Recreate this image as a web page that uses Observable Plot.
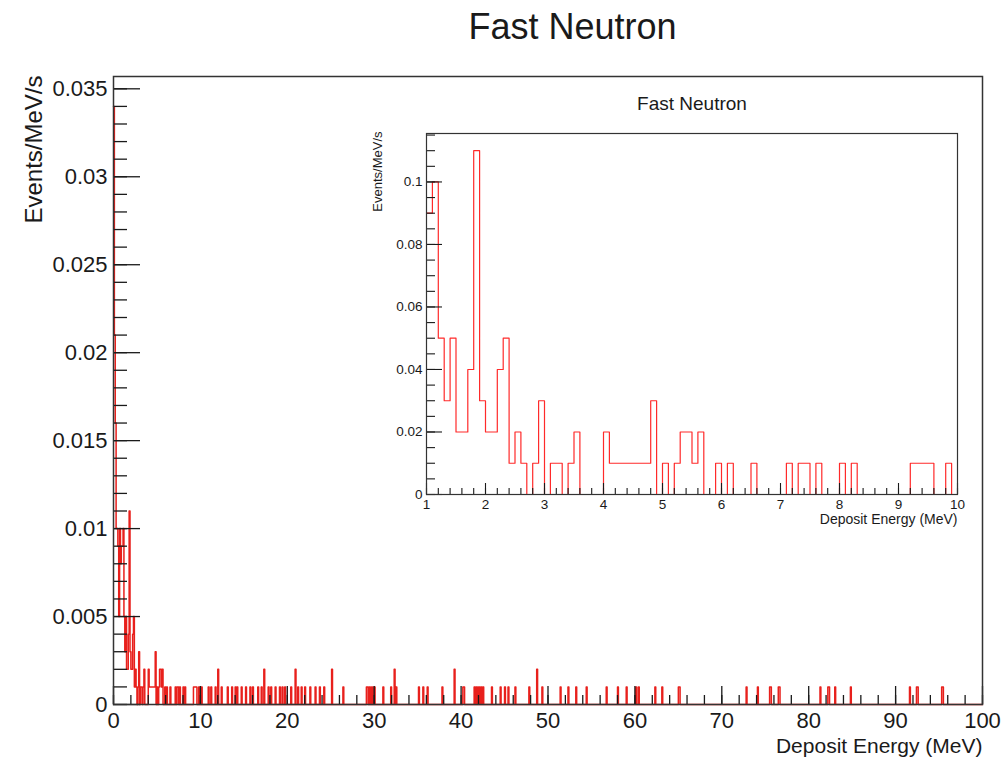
<!DOCTYPE html>
<html><head><meta charset="utf-8">
<script src="https://cdn.jsdelivr.net/npm/d3@7"></script>
<script src="https://cdn.jsdelivr.net/npm/@observablehq/plot@0.6"></script>
<style>
html,body{margin:0;padding:0;background:#fff;}
#wrap{position:relative;width:1002px;height:758px;overflow:hidden;background:#fff;}
#wrap svg{position:absolute;overflow:visible;}
</style></head><body><div id="wrap"></div>
<script>
// ---------- data (counts per 0.1 MeV bin) ----------
// main histogram, bins 0.0 .. 0.9 MeV (units of 0.001 Events/MeV/s)
const mainLowCounts = [34, 21, 16, 10, 10, 9, 5, 10, 8, 9];
// bins 1.0 .. 9.9 MeV (inset units of 0.01, main units of 0.001)
const insetCounts = [
  9,10,5,3,5,2,2,4,11,3,
  2,2,4,5,1,2,1,0,1,3,
  0,1,1,0,1,2,0,0,0,0,
  2,1,1,1,1,1,1,1,3,0,
  1,0,1,2,2,1,2,0,0,1,
  0,1,0,0,0,1,0,0,0,0,
  0,1,0,1,1,0,1,0,0,0,
  1,0,1,0,0,0,0,0,0,0,
  0,0,1,1,1,1,0,0,1,0
];
// sparse bins above 10 MeV (bin low edge, count)
const highBinE = [10.1,10.9,11.2,11.7,12.0,12.4,13.1,13.6,14.0,14.2,14.7,15.2,15.7,16.0,16.6,17.0,17.3,17.8,18.1,18.6,19.1,19.4,19.7,20.4,20.9,21.2,21.6,22.0,22.6,23.2,23.7,24.2,25.1,26.4,
  29.1,29.2,29.4,29.6,29.8,30.0,31.0,31.9,32.3,32.5,35.1,35.6,36.1,37.8,39.2,40.2,40.3,41.5,41.7,41.9,42.1,42.3,42.5,43.5,44.5,45.0,45.4,46.2,47.8,48.7,49.3,
  51.4,52.3,53.2,54.4,56.7,58.0,59.0,60.1,60.4,62.3,63.1,65.0,65.1,72.8,74.1,75.5,75.6,76.5,76.6,81.3,82.2,82.3,83.0,84.8,91.6,92.4,92.5,95.3,95.4];
const highBinCounts = [1,1,1,1,2,1,1,1,1,1,1,1,1,1,1,1,2,1,1,1,1,1,1,1,2,1,1,1,1,1,1,1,2,1,
  1,1,1,1,1,1,1,1,2,1,1,1,1,1,2,1,1,1,1,1,1,1,1,1,1,1,1,1,1,2,1,
  1,1,1,1,1,1,1,1,1,1,1,1,1,1,1,1,1,1,1,1,1,1,1,1,1,1,1,1,1];
// tick labels
const mainXTicks = [0,10,20,30,40,50,60,70,80,90,100];
const mainYTicks = [0,0.005,0.01,0.015,0.02,0.025,0.03,0.035];
const insetXTicks = [1,2,3,4,5,6,7,8,9,10];
const insetYTicks = [0,0.02,0.04,0.06,0.08,0.1];

const FONT = '"Liberation Sans", Arial, Helvetica, sans-serif';
const RED = "#e8201c";
const INK = "#1a1a1a";
const fmt = d => String(+(+d).toFixed(3));

// ---------- build histogram tables ----------
const nMain = 1000;
const mainCounts = new Array(nMain).fill(0);
mainLowCounts.forEach((c, i) => mainCounts[i] = c);
insetCounts.forEach((c, i) => mainCounts[10 + i] = c);
highBinE.forEach((e, i) => mainCounts[Math.round(e * 10)] = highBinCounts[i]);
const mainData = mainCounts.map((c, i) => ({x: i / 10, y: c * 0.001}));
mainData.push({x: 100, y: mainCounts[nMain - 1] * 0.001});

const insetData = insetCounts.map((c, i) => ({x: (10 + i) / 10, y: c * 0.01}));
insetData.push({x: 10, y: insetCounts[insetCounts.length - 1] * 0.01});

// ---------- main plot ----------
const W = 1002, H = 758, mL = 113, mR = 20, mT = 76, mB = 54;
const fw = W - mL - mR, fh = H - mT - mB;
const mainYMinor = d3.range(0, 36).map(i => i / 1000);
const mainXMinor = d3.range(0, 51).map(i => i * 2);

const main = Plot.plot({
  width: W, height: H, marginLeft: mL, marginRight: mR, marginTop: mT, marginBottom: mB,
  style: {fontFamily: FONT, background: "white", overflow: "visible", color: INK},
  x: {domain: [0, 100]},
  y: {domain: [0, 0.0357]},
  marks: [
    Plot.lineY(mainData, {x: "x", y: "y", curve: "step-after", stroke: RED, strokeWidth: 1.5}),
    Plot.tickY(mainYMinor, {y: d => d, insetRight: fw - 14, stroke: INK, strokeWidth: 1.3}),
    Plot.tickY(mainYTicks, {y: d => d, insetRight: fw - 27, stroke: INK, strokeWidth: 1.3}),
    Plot.tickX(mainXMinor, {x: d => d, insetTop: fh - 9, stroke: INK, strokeWidth: 1.3}),
    Plot.tickX(mainXTicks, {x: d => d, insetTop: fh - 18, stroke: INK, strokeWidth: 1.3}),
    Plot.axisY(mainYTicks, {tickSize: 0, tickPadding: 6, fontSize: 22, tickFormat: fmt, label: null, fill: INK}),
    Plot.axisX(mainXTicks, {tickSize: 0, tickPadding: 8, fontSize: 22, tickFormat: fmt, label: null, fill: INK}),
    Plot.frame({stroke: "#333", strokeWidth: 1.5}),
    Plot.text(["Fast Neutron"], {text: d => d, frameAnchor: "top", dx: 24.5, dy: -49, fontSize: 36, lineAnchor: "middle", fill: INK}),
    Plot.text(["Deposit Energy (MeV)"], {text: d => d, frameAnchor: "bottom-right", dy: 41.5, textAnchor: "end", lineAnchor: "middle", fontSize: 21, fill: INK}),
    Plot.text(["Events/MeV/s"], {text: d => d, frameAnchor: "top-left", rotate: -90, textAnchor: "end", lineAnchor: "middle", dx: -79, dy: -1, fontSize: 24, fill: INK})
  ]
});
main.style.left = "0px"; main.style.top = "0px";

// ---------- inset plot ----------
const IW = 640, IH = 460, iL = 86, iR = 23, iT = 53, iB = 46;
const ifw = IW - iL - iR, ifh = IH - iT - iB;
const insetYMinor = d3.range(0, 24).map(i => i * 0.005);
const insetXMinor = d3.range(0, 46).map(i => 1 + i * 0.2);

const inset = Plot.plot({
  width: IW, height: IH, marginLeft: iL, marginRight: iR, marginTop: iT, marginBottom: iB,
  style: {fontFamily: FONT, background: "transparent", overflow: "visible", color: INK},
  x: {domain: [1, 10]},
  y: {domain: [0, 0.1155]},
  marks: [
    Plot.lineY(insetData, {x: "x", y: "y", curve: "step-after", stroke: "#ff2a2a", strokeWidth: 1.2}),
    Plot.tickY(insetYMinor, {y: d => d, insetRight: ifw - 9, stroke: INK, strokeWidth: 1.1}),
    Plot.tickY(insetYTicks, {y: d => d, insetRight: ifw - 16, stroke: INK, strokeWidth: 1.1}),
    Plot.tickX(insetXMinor, {x: d => d, insetTop: ifh - 6, stroke: INK, strokeWidth: 1.1}),
    Plot.tickX(insetXTicks, {x: d => d, insetTop: ifh - 11, stroke: INK, strokeWidth: 1.1}),
    Plot.axisY(insetYTicks, {tickSize: 0, tickPadding: 4, fontSize: 13.5, tickFormat: fmt, label: null, fill: INK}),
    Plot.axisX(insetXTicks, {tickSize: 0, tickPadding: 5, fontSize: 13.5, tickFormat: fmt, label: null, fill: INK}),
    Plot.frame({stroke: "#333", strokeWidth: 1.2}),
    Plot.text(["Fast Neutron"], {text: d => d, frameAnchor: "top", dy: -30, fontSize: 19, lineAnchor: "middle", fill: INK}),
    Plot.text(["Deposit Energy (MeV)"], {text: d => d, frameAnchor: "bottom-right", dy: 25, textAnchor: "end", lineAnchor: "middle", fontSize: 14, fill: INK}),
    Plot.text(["Events/MeV/s"], {text: d => d, frameAnchor: "top-left", rotate: -90, textAnchor: "end", lineAnchor: "middle", dx: -49, dy: -2, fontSize: 13, fill: INK})
  ]
});
inset.style.left = "340px"; inset.style.top = "80px";

const wrap = document.getElementById("wrap");
wrap.appendChild(main);
wrap.appendChild(inset);
</script>
</body></html>
